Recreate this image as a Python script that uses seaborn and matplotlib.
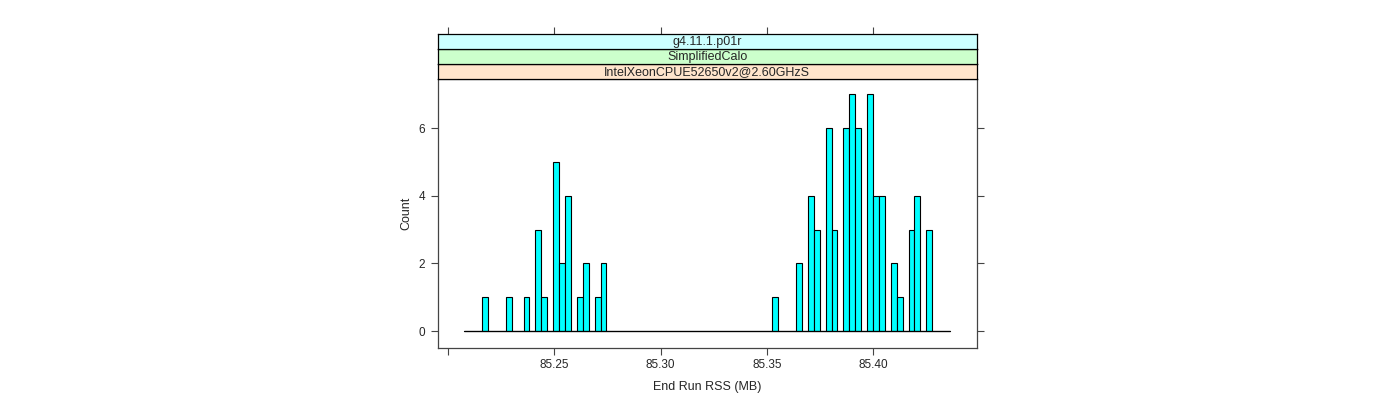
import numpy as np
import matplotlib
matplotlib.use("Agg")
import matplotlib.pyplot as plt
import seaborn as sns

# histogram: 82 equal bins, counts
bin_start = 85.2077
bin_end = 85.4361
n_bins = 82
bar_bins = [3, 7, 10, 12, 13, 15, 16, 17, 19, 20, 22, 23,
            52, 56, 58, 59, 61, 62, 64, 65, 66, 68, 69, 70, 72, 73, 75, 76, 78]
bar_counts = [1, 1, 1, 3, 1, 5, 2, 4, 1, 2, 1, 2,
              1, 2, 4, 3, 6, 3, 6, 7, 6, 7, 4, 4, 2, 1, 3, 4, 3]

strip_labels = ["IntelXeonCPUE52650v2@2.60GHzS", "SimplifiedCalo", "g4.11.1.p01r"]
strip_colors = ["#ffe5cc", "#ccffcc", "#ccffff"]

x_ticks = [85.20, 85.25, 85.30, 85.35, 85.40]
x_ticklabels = ["", "85.25", "85.30", "85.35", "85.40"]
y_ticks = [0, 2, 4, 6]

sns.set_style("white")
plt.rcParams['font.family'] = ['Liberation Sans', 'DejaVu Sans']

edges = np.linspace(bin_start, bin_end, n_bins + 1)
centers = (edges[:-1] + edges[1:]) / 2
values = np.repeat(centers[bar_bins], bar_counts)

fig = plt.figure(figsize=(14, 4), dpi=100)
W, H = 1400, 400
left, right, top, bottom = 437.5, 977, 79, 348
ax = fig.add_axes([left / W, 1 - bottom / H, (right - left) / W, (bottom - top) / H])

sns.histplot(x=values, bins=edges, color="#00ffff", edgecolor="black",
             linewidth=0.8, alpha=1, ax=ax)
# empty bins drawn as a flat line along zero, like lattice does
ax.plot([bin_start, bin_end], [0, 0], color="black", lw=0.9)

xlim = (85.1951, 85.4488)
ax.set_xlim(*xlim)
ax.set_ylim(-0.5, 7.45)
ax.set_xticks(x_ticks)
ax.set_xticklabels(x_ticklabels)
ax.set_yticks(y_ticks)
ax.tick_params(axis="both", direction="out", length=5, width=0.8, color="#444444",
               labelsize=8.5, pad=3, right=True, left=True, bottom=True)
ax.tick_params(axis="y", labelleft=True, labelright=False, pad=4)
for s in ax.spines.values():
    s.set_color("#444444")
    s.set_linewidth(0.9)
ax.set_xlabel("End Run RSS (MB)", fontsize=9, labelpad=7)
ax.set_ylabel("Count", fontsize=9, labelpad=4)

# strips above the panel
strip_h = 15
for i, (lab, col) in enumerate(zip(strip_labels, strip_colors)):
    y0 = top - (i + 1) * strip_h
    sax = fig.add_axes([left / W, 1 - (y0 + strip_h) / H, (right - left) / W, strip_h / H])
    sax.set_facecolor(col)
    sax.set_xlim(*xlim)
    sax.set_ylim(0, 1)
    sax.text(0.5, 0.45, lab, transform=sax.transAxes, ha="center", va="center", fontsize=9)
    sax.set_yticks([])
    if i == len(strip_labels) - 1:
        sax.set_xticks(x_ticks)
        sax.tick_params(axis="x", direction="out", length=5, width=0.8, color="#444444",
                        top=True, bottom=False, labeltop=False, labelbottom=False)
    else:
        sax.set_xticks([])
    for s in sax.spines.values():
        s.set_color("black")
        s.set_linewidth(0.9)

fig.savefig("out.png", dpi=100)
